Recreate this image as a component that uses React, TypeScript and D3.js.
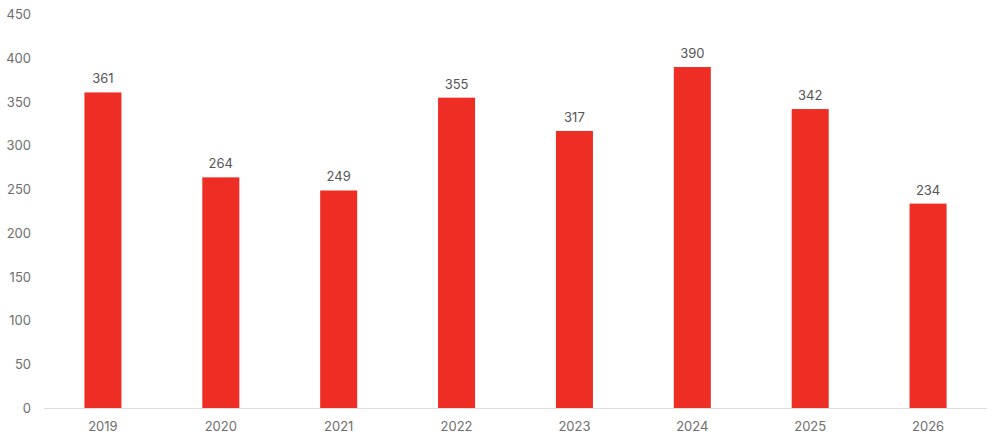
import { scaleBand, scaleLinear } from 'd3';

const years = ['2019', '2020', '2021', '2022', '2023', '2024', '2025', '2026'];
const values = [361, 264, 249, 355, 317, 390, 342, 234];
const yTicks = [0, 50, 100, 150, 200, 250, 300, 350, 400, 450];

export default function App() {
  const width = 1000;
  const height = 443;
  const left = 44;
  const right = 987;
  const top = 14.5;
  const bottom = 408.5;

  const x = scaleBand().domain(years).range([left, right]).padding(0);
  const y = scaleLinear().domain([0, 450]).range([bottom, top]);
  const barW = x.step() * 0.314;

  return (
    <svg
      width={width}
      height={height}
      style={{ position: 'absolute', left: 0, top: 0 }}
      fontFamily="Inter, 'Noto Sans', sans-serif"
    >
      {yTicks.map((t) => (
        <text key={t} x={31} y={y(t)} dy="0.35em" textAnchor="end" fontSize={13} fill="#6e6e6e">
          {t}
        </text>
      ))}
      {years.map((yr, i) => {
        const cx = x(yr)! + x.bandwidth() / 2;
        return (
          <g key={yr}>
            <rect x={cx - barW / 2} y={y(values[i])} width={barW} height={bottom - y(values[i])} fill="#ee2d24" />
            <text x={cx} y={y(values[i]) - 9} textAnchor="middle" fontSize={13} fill="#555">
              {values[i]}
            </text>
            <text x={cx} y={431} textAnchor="middle" fontSize={13} fill="#6e6e6e">
              {yr}
            </text>
          </g>
        );
      })}
      <line x1={left} x2={right} y1={bottom} y2={bottom} stroke="#dddddd" />
    </svg>
  );
}
